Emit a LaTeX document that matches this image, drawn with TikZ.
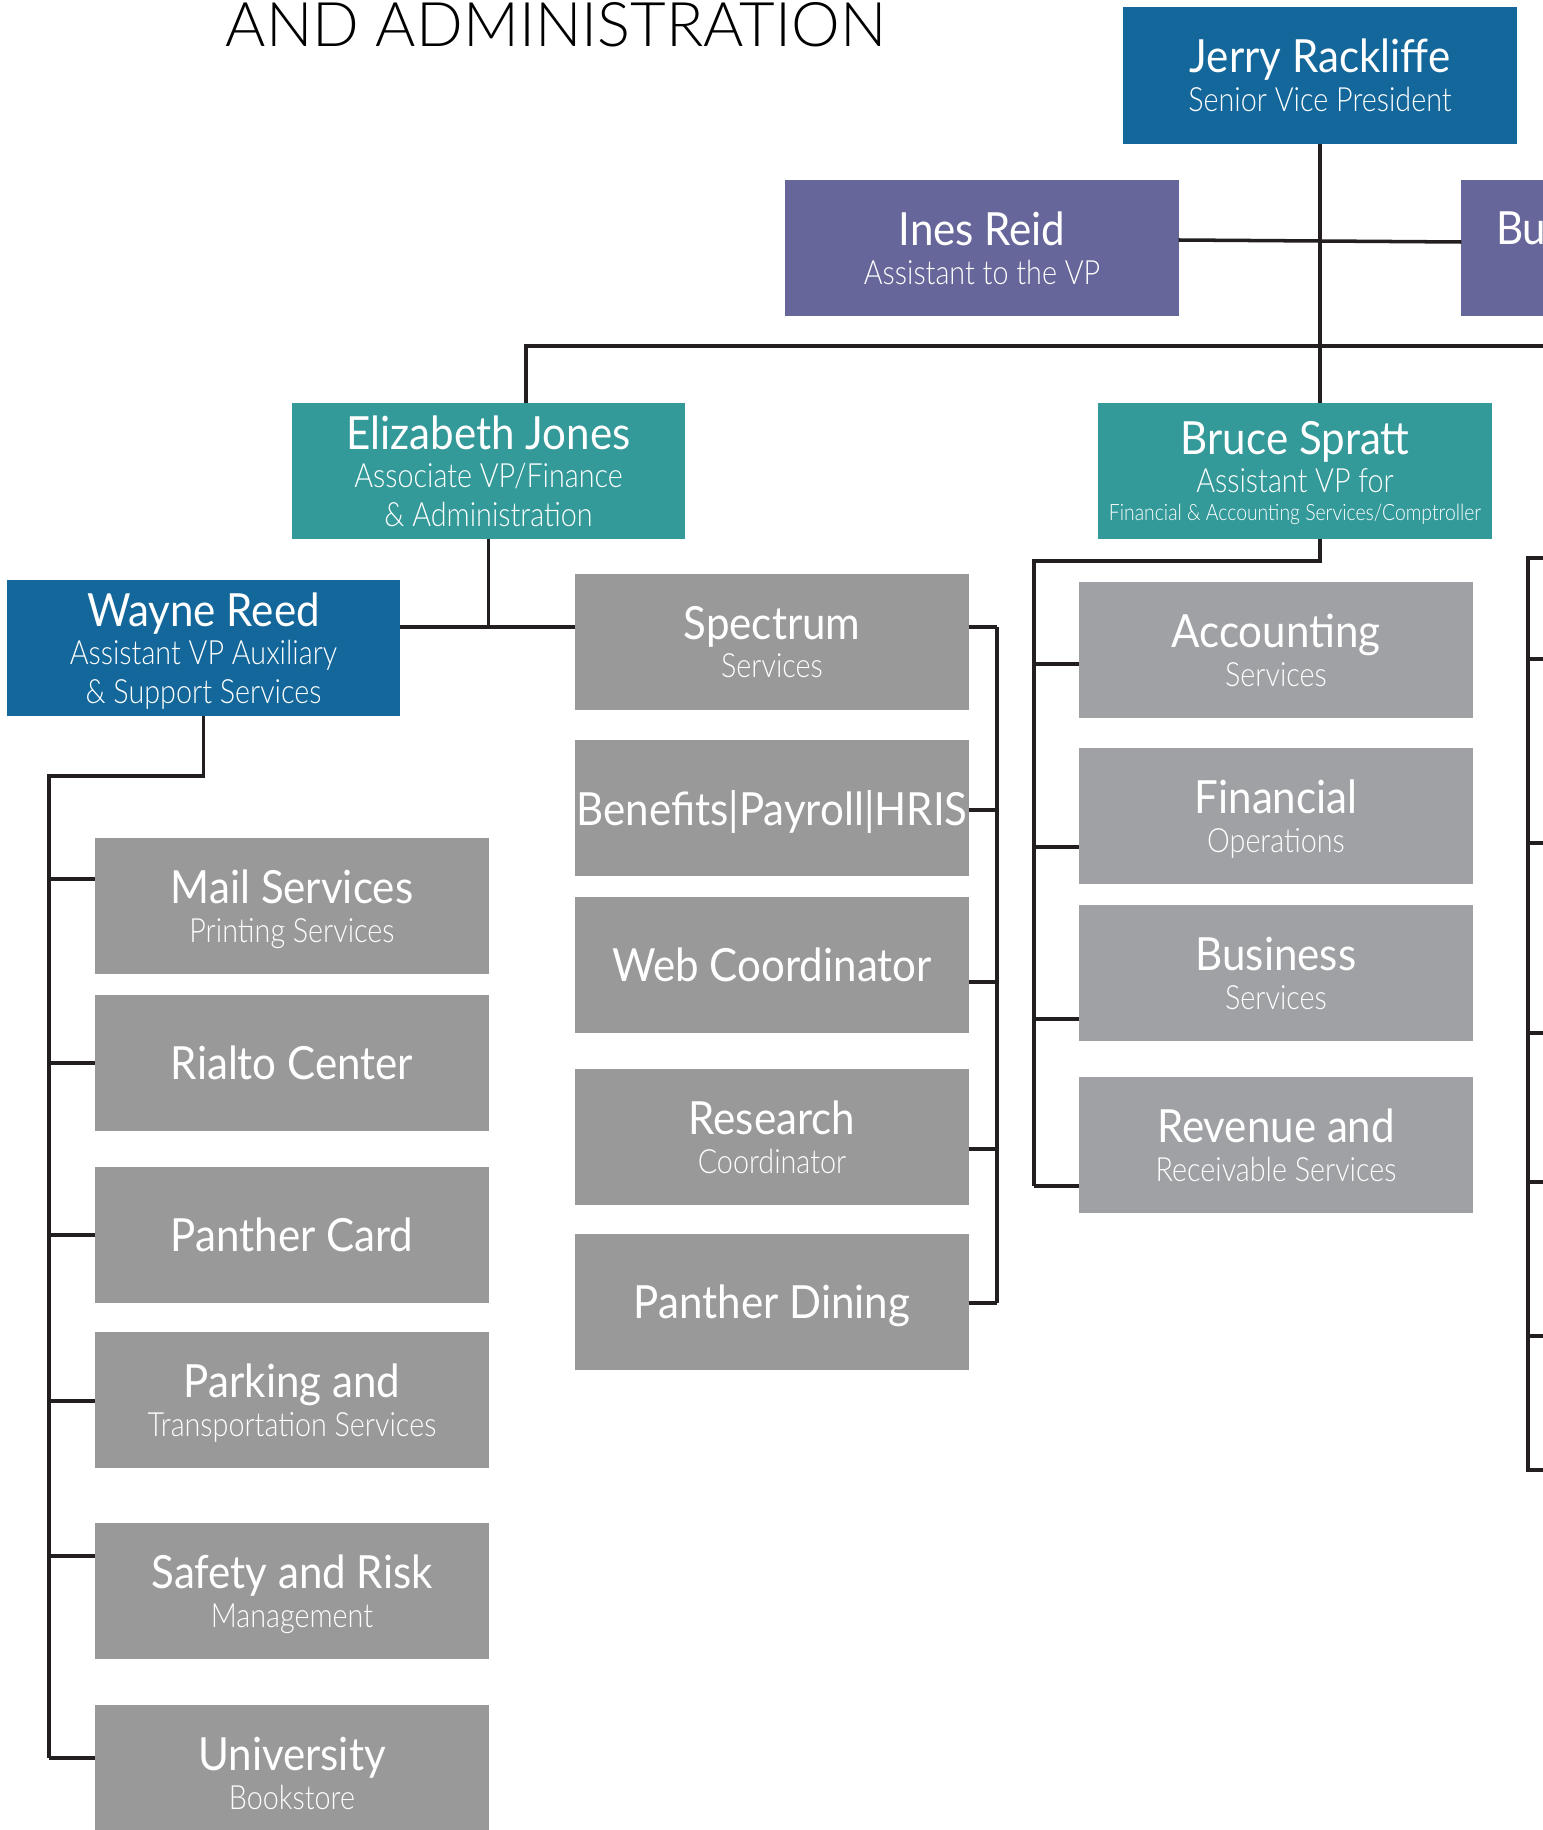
\documentclass[tikz,border=0pt]{standalone}
\usepackage{fontspec}
\setmainfont{Lato}
\newfontfamily\namefont{Lato}[FakeStretch=0.92]
\newfontfamily\lightfont{Lato Light}[FakeStretch=0.86]
\newfontfamily\titlefont{Lato Light}
\usepackage{xcolor}
\definecolor{seniorblue}{RGB}{19, 103, 154}
\definecolor{staffpurple}{RGB}{103, 102, 154}
\definecolor{assocteal}{RGB}{51, 153, 153}
\definecolor{unitgray}{RGB}{153, 153, 153}
\definecolor{fingray}{RGB}{160, 161, 165}
\definecolor{linedark}{RGB}{35, 31, 32}
\newcommand{\who}[1]{{\namefont\fontsize{13}{15}\selectfont #1}}

\begin{document}
\begin{tikzpicture}[
        x=0.01cm, y=-0.01cm,
        every node/.style={text=white, inner sep=0pt, outer sep=0pt},
        orgbox/.style={rectangle, minimum width=3.93cm, minimum height=1.36cm, text depth=0pt, align=center, font=\lightfont\fontsize{9.5}{11}\selectfont},
        vpbox/.style={orgbox, fill=seniorblue},
        staffbox/.style={orgbox, fill=staffpurple},
        assocbox/.style={orgbox, fill=assocteal},
        unitbox/.style={orgbox, fill=unitgray},
        finbox/.style={orgbox, fill=fingray},
        link/.style={draw=linedark, line width=1pt},
    ]
        \useasboundingbox (0,0) rectangle (1543,1830);
        \clip (0,0) rectangle (1543,1830);

        % Title
        \node[text=black, anchor=base, font=\titlefont\fontsize{17.5}{20}\selectfont] (title) at (556,47) {AND ADMINISTRATION};

        % Top level
        \node[vpbox] (rackliffe) at (1320,75.5) {\who{Jerry Rackliffe}\\Senior Vice President};
        \node[staffbox] (reid) at (982,248) {\who{Ines Reid}\\Assistant to the VP};
        \node[staffbox] (bu) at (1658,248) {};
        \node[anchor=west] (bulabel) at (1496,228) {\who{Bu}};

        % Associate and assistant VPs
        \node[assocbox] (jones) at (488.5,471) {\who{Elizabeth Jones}\\Associate VP/Finance\\\& Administration};
        \node[assocbox] (spratt) at (1295,471) {\who{Bruce Spratt}\\Assistant VP for\\[-3pt]{\fontsize{6.4}{8}\selectfont Financial \& Accounting Services/Comptroller}};
        \node[vpbox] (reed) at (203.5,648) {\who{Wayne Reed}\\Assistant VP Auxiliary\\\& Support Services};

        % Middle column
        \node[unitbox] (spectrum) at (772,642) {\who{Spectrum}\\Services};
        \node[unitbox] (benefits) at (772,808) {\who{Benefits|Payroll|HRIS}};
        \node[unitbox] (web) at (772,965) {\who{Web Coordinator}};
        \node[unitbox] (research) at (772,1137) {\who{Research}\\Coordinator};
        \node[unitbox] (dining) at (772,1302) {\who{Panther Dining}};

        % Left column
        \node[unitbox] (mail) at (292,906) {\who{Mail Services}\\Printing Services};
        \node[unitbox] (rialto) at (292,1063) {\who{Rialto Center}};
        \node[unitbox] (card) at (292,1235) {\who{Panther Card}};
        \node[unitbox] (parking) at (292,1400) {\who{Parking and}\\Transportation Services};
        \node[unitbox] (safety) at (292,1591) {\who{Safety and Risk}\\Management};
        \node[unitbox] (bookstore) at (292,1773) {\who{University}\\Bookstore};

        % Right column
        \node[finbox] (accounting) at (1276,650) {\who{Accounting}\\Services};
        \node[finbox] (financial) at (1276,816) {\who{Financial}\\Operations};
        \node[finbox] (business) at (1276,973) {\who{Business}\\Services};
        \node[finbox] (revenue) at (1276,1145) {\who{Revenue and}\\Receivable Services};

        % Top connectors
        \coordinate (barwest) at (526,346);
        \coordinate (bareast) at (1543,346);
        \draw[link] (rackliffe.south) -- (rackliffe.south |- spratt.north);
        \draw[link] ([yshift=0.08cm]reid.east) -- ([yshift=0.06cm]bu.west);
        \draw[link] (bareast) -- (barwest) -- (barwest |- jones.north);

        % Jones to Reed and the middle column
        \coordinate (hub) at (488.5,627);
        \draw[link] (jones.south) -- (hub);
        \draw[link] (reed.east |- hub) -- (spectrum.west |- hub);
        \draw[link] (997,627) -- (997,1303);
        \foreach \b/\y in {spectrum/627, benefits/810, web/982, research/1149, dining/1303}
            \draw[link] (\b.east |- 0,\y) -- (997,\y);

        % Reed to the left column
        \coordinate (leftrail) at (49,776);
        \draw[link] (reed.south) -- (reed.south |- leftrail) -- (leftrail) -- (49,1758);
        \foreach \b/\y in {mail/879, rialto/1063, card/1235, parking/1401, safety/1556, bookstore/1758}
            \draw[link] (49,\y) -- (\b.west |- 0,\y);

        % Spratt to the right column
        \coordinate (rightrail) at (1034,561);
        \draw[link] (rackliffe.south |- spratt.south) -- (rackliffe.south |- rightrail) -- (rightrail) -- (1034,1186);
        \foreach \b/\y in {accounting/664, financial/847, business/1019, revenue/1186}
            \draw[link] (1034,\y) -- (\b.west |- 0,\y);

        % Far right rail
        \draw[link] (1543,558) -- (1528,558) -- (1528,1470) -- (1543,1470);
        \foreach \y in {659, 843, 1033, 1182, 1336}
            \draw[link] (1528,\y) -- (1543,\y);
    \end{tikzpicture}
\end{document}
